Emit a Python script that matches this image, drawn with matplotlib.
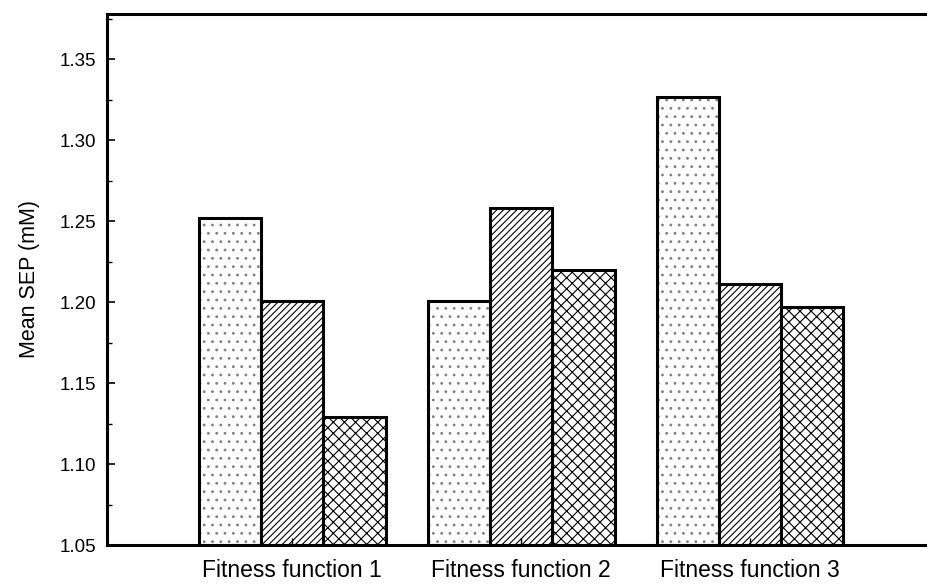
import matplotlib
matplotlib.use("Agg")
import matplotlib.pyplot as plt
import numpy as np
from matplotlib.ticker import MultipleLocator

# --- datos ---
groups = ["Fitness function 1", "Fitness function 2", "Fitness function 3"]
serie_a = [1.252, 1.201, 1.327]   # punteado
serie_b = [1.201, 1.258, 1.211]   # rayado diagonal
serie_c = [1.129, 1.220, 1.197]   # cuadriculado
yticks = [1.05, 1.10, 1.15, 1.20, 1.25, 1.30, 1.35]

plt.rcParams['font.family'] = ['Liberation Sans', 'DejaVu Sans']
plt.rcParams['hatch.linewidth'] = 0.8

fig = plt.figure(figsize=(9.28, 5.88), dpi=100)
ax = fig.add_axes([107 / 928, 43 / 588, 1.003 - 107 / 928, (545 - 14) / 588])

x = np.arange(len(groups))
w = 0.272
# (valores, hatch, desplazamiento, color del hatch)
series = [(serie_a, '..', -w, '0.5'), (serie_b, '/////', 0, 'black'),
          (serie_c, 'xxx', w, 'black')]
for vals, hatch, off, hc in series:
    ax.bar(x + off, np.array(vals) - 1.05, width=w, bottom=1.05,
           color='white', edgecolor=hc, hatch=hatch, linewidth=0)
    ax.bar(x + off, np.array(vals) - 1.05, width=w, bottom=1.05,
           fill=False, edgecolor='black', linewidth=2.2)

ax.set_xlim(-0.81, 2.79)
ax.set_ylim(1.05, 1.378)
ax.set_yticks(yticks)
ax.set_yticklabels([f"{t:.2f}" for t in yticks])
ax.yaxis.set_minor_locator(MultipleLocator(0.025))
ax.set_xticks(x)
ax.set_xticklabels(groups, fontsize=16.5)
ax.tick_params(axis='y', which='major', direction='in', length=6, width=1.2,
               labelsize=13.5, pad=8)
ax.tick_params(axis='y', which='minor', direction='in', length=3.5, width=1.0)
ax.tick_params(axis='x', direction='in', length=5, width=1.0, pad=10)
ax.set_ylabel("Mean SEP (mM)", fontsize=15.5, labelpad=14)

for side in ['left', 'bottom', 'top', 'right']:
    ax.spines[side].set_linewidth(2.2)

fig.savefig("out.png", dpi=100)
